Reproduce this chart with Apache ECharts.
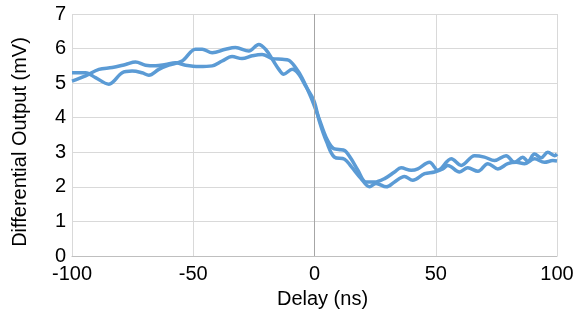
<!DOCTYPE html>
<html>
<head>
<meta charset="utf-8">
<script src="https://cdn.jsdelivr.net/npm/echarts@6/dist/echarts.min.js"></script>
<style>html,body{margin:0;padding:0;background:#fff;}#c{width:577px;height:321px;}</style>
</head>
<body>
<div id="c"></div>
<script>
const xTicks = [-100, -50, 0, 50, 100];
const yTicks = [0, 1, 2, 3, 4, 5, 6, 7];
const xLabel = 'Delay (ns)';
const yLabel = 'Differential Output (mV)';

const traceA = [
  [-100,5.06],[-94.4,5.21],[-88.9,5.40],[-83.4,5.45],[-77.9,5.54],[-73.8,5.61],[-69.7,5.52],[-65.5,5.50],[-61.4,5.54],
  [-57.3,5.59],[-53.2,5.52],[-47.7,5.48],[-42.2,5.50],[-38.1,5.64],[-34,5.77],[-29.9,5.71],[-25.7,5.79],[-21.6,5.83],
  [-17.4,5.71],[-13.3,5.69],[-10.6,5.66],[-7.8,5.45],[-5.1,5.15],[-1.5,4.6],[2,3.95],[4.8,3.43],[7.6,3.12],[10,3.08],
  [12.4,3.05],[15.1,2.81],[17.9,2.48],[21.3,2.14],[24.7,2.14],[28.9,2.24],[33,2.43],[35.7,2.55],[39.9,2.48],[42.6,2.52],
  [47.4,2.71],[50.9,2.48],[56.4,2.81],[60.5,2.62],[66,2.9],[70.1,2.86],[74.2,2.76],[79,2.9],[82.5,2.71],[85.9,2.86],
  [88,2.74],[90.7,2.95],[93.5,2.84],[96.2,3.0],[99,2.9],[100,2.95]
];
const traceB = [
  [-100,5.30],[-94.4,5.30],[-90.3,5.16],[-84.8,4.97],[-79.3,5.30],[-75.2,5.35],[-71.1,5.30],[-68.3,5.23],[-64.2,5.40],
  [-60.1,5.52],[-54.6,5.64],[-49.1,5.98],[-46.3,5.98],[-42.2,5.88],[-36.7,5.98],[-32.6,6.03],[-27.1,5.93],[-23,6.12],
  [-20.2,5.98],[-17.4,5.69],[-14.7,5.40],[-12.7,5.26],[-9.2,5.40],[-6.5,5.26],[-3.7,4.92],[-0.3,4.5],[2,3.9],[5,3.3],
  [8.2,2.86],[12.4,2.8],[15,2.6],[19.2,2.24],[22.7,2.0],[25.4,2.1],[29.6,2.0],[33,2.14],[37.1,2.3],[40.5,2.19],
  [45.4,2.38],[49.5,2.43],[52.9,2.52],[55,2.62],[59.8,2.43],[63.2,2.55],[67.4,2.45],[71.5,2.67],[75.6,2.52],[79.7,2.67],
  [83.2,2.71],[86.6,2.67],[90.7,2.81],[94.8,2.71],[98.3,2.76],[100,2.75]
];

const FONT = 'Liberation Sans, Arial, sans-serif';
const lineColor = '#5b9bd5';
const chart = echarts.init(document.getElementById('c'), null, {renderer: 'canvas'});
function mkSeries(data, withMark) {
  const s = {
    type: 'line', data: data, smooth: 0.35, showSymbol: false, symbol: 'none',
    lineStyle: {color: lineColor, width: 3.5}, z: 3, animation: false
  };
  if (withMark) {
    s.markLine = {
      silent: true, symbol: ['none', 'none'], label: {show: false},
      lineStyle: {color: '#a6a6a6', width: 1, type: 'solid'},
      data: [{xAxis: 0}], animation: false
    };
  }
  return s;
}
chart.setOption({
  animation: false,
  grid: {left: 72, right: 20, top: 14, bottom: 65},
  xAxis: {
    type: 'value', min: xTicks[0], max: xTicks[xTicks.length - 1], interval: 50,
    name: xLabel, nameLocation: 'middle', nameGap: 33,
    nameTextStyle: {fontFamily: FONT, fontSize: 20, color: '#000', padding: [0, 0, 0, 16]},
    axisLine: {onZero: false, lineStyle: {color: '#bfbfbf', width: 1}},
    axisTick: {show: false},
    axisLabel: {fontFamily: FONT, fontSize: 20, color: '#000', margin: 8},
    splitLine: {show: true, lineStyle: {color: '#d9d9d9', width: 1}}
  },
  yAxis: {
    type: 'value', min: yTicks[0], max: yTicks[yTicks.length - 1], interval: 1,
    name: yLabel, nameLocation: 'middle', nameGap: 42,
    nameTextStyle: {fontFamily: FONT, fontSize: 20, color: '#000', padding: [0, 14, 0, 0]},
    axisLine: {show: false},
    axisTick: {show: false},
    axisLabel: {fontFamily: FONT, fontSize: 20, color: '#000', margin: 6},
    splitLine: {show: true, lineStyle: {color: '#d9d9d9', width: 1}}
  },
  series: [mkSeries(traceA, true), mkSeries(traceB, false)]
});
</script>
</body>
</html>
